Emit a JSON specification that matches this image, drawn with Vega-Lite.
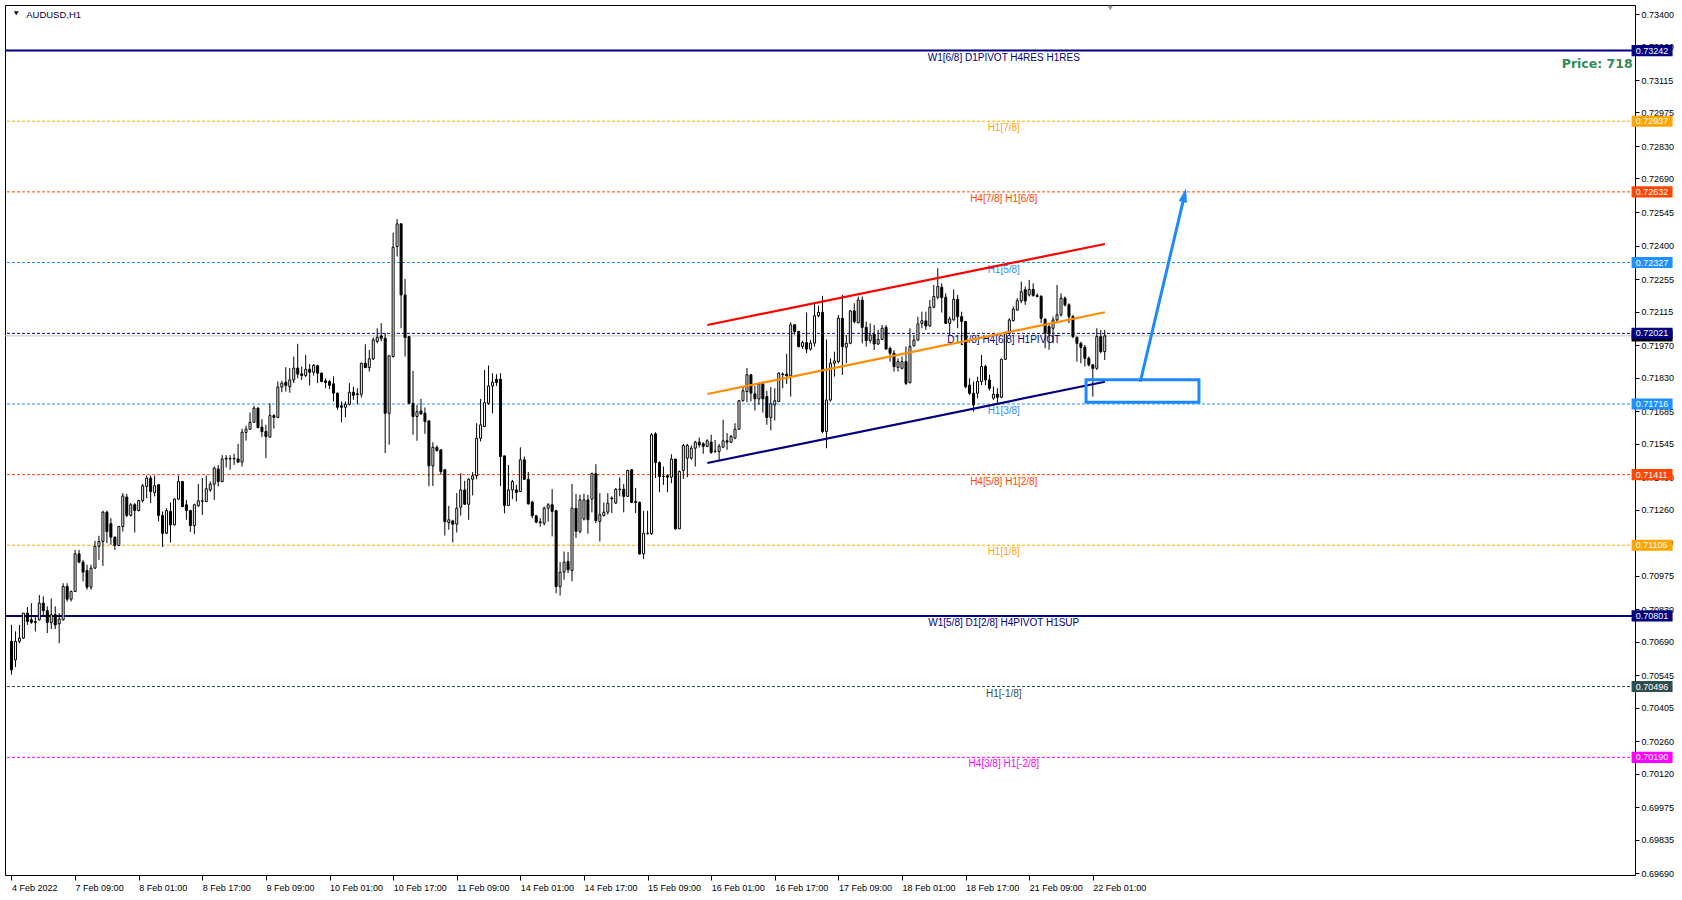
{
"$schema":"https://vega.github.io/schema/vega-lite/v6.json",
"width":1630,"height":870,
"autosize":{"type":"none"},
"padding":{"left":5,"top":5,"right":47,"bottom":25},
"background":"white",
"config":{"view":{"stroke":"black","strokeWidth":1},"font":"Liberation Sans",
 "axis":{"labelOverlap":false,"labelSeparation":0,"labelBound":false}},
"datasets":{
"candles":[
{"i":0,"o":0.70691,"h":0.70762,"l":0.70547,"c":0.70568},
{"i":1,"o":0.70611,"h":0.70734,"l":0.70580,"c":0.70691},
{"i":2,"o":0.70691,"h":0.70762,"l":0.70683,"c":0.70705},
{"i":3,"o":0.70705,"h":0.70813,"l":0.70701,"c":0.70813},
{"i":4,"o":0.70813,"h":0.70839,"l":0.70762,"c":0.70777},
{"i":5,"o":0.70784,"h":0.70856,"l":0.70767,"c":0.70773},
{"i":6,"o":0.70776,"h":0.70801,"l":0.70734,"c":0.70773},
{"i":7,"o":0.70784,"h":0.70891,"l":0.70781,"c":0.70856},
{"i":8,"o":0.70856,"h":0.70885,"l":0.70803,"c":0.70824},
{"i":9,"o":0.70824,"h":0.70842,"l":0.70727,"c":0.70773},
{"i":10,"o":0.70773,"h":0.70876,"l":0.70744,"c":0.70806},
{"i":11,"o":0.70806,"h":0.70842,"l":0.70744,"c":0.70762},
{"i":12,"o":0.70767,"h":0.70813,"l":0.70683,"c":0.70787},
{"i":13,"o":0.70784,"h":0.70942,"l":0.70781,"c":0.70928},
{"i":14,"o":0.70928,"h":0.70942,"l":0.70863,"c":0.70873},
{"i":15,"o":0.70873,"h":0.70911,"l":0.70863,"c":0.70906},
{"i":16,"o":0.70906,"h":0.71086,"l":0.70904,"c":0.71069},
{"i":17,"o":0.71069,"h":0.71086,"l":0.71029,"c":0.71033},
{"i":18,"o":0.71033,"h":0.71043,"l":0.70950,"c":0.70990},
{"i":19,"o":0.70997,"h":0.71022,"l":0.70914,"c":0.70925},
{"i":20,"o":0.70925,"h":0.71022,"l":0.70914,"c":0.71007},
{"i":21,"o":0.71007,"h":0.71125,"l":0.71004,"c":0.71101},
{"i":22,"o":0.71101,"h":0.71147,"l":0.71043,"c":0.71122},
{"i":23,"o":0.71122,"h":0.71255,"l":0.71017,"c":0.71249},
{"i":24,"o":0.71249,"h":0.71255,"l":0.71115,"c":0.71165},
{"i":25,"o":0.71199,"h":0.71223,"l":0.71108,"c":0.71141},
{"i":26,"o":0.71141,"h":0.71144,"l":0.71086,"c":0.71105},
{"i":27,"o":0.71105,"h":0.71190,"l":0.71104,"c":0.71187},
{"i":28,"o":0.71187,"h":0.71331,"l":0.71165,"c":0.71319},
{"i":29,"o":0.71314,"h":0.71328,"l":0.71227,"c":0.71235},
{"i":30,"o":0.71235,"h":0.71288,"l":0.71230,"c":0.71281},
{"i":31,"o":0.71281,"h":0.71288,"l":0.71161,"c":0.71256},
{"i":32,"o":0.71256,"h":0.71302,"l":0.71252,"c":0.71299},
{"i":33,"o":0.71299,"h":0.71371,"l":0.71291,"c":0.71363},
{"i":34,"o":0.71360,"h":0.71407,"l":0.71309,"c":0.71396},
{"i":35,"o":0.71396,"h":0.71407,"l":0.71288,"c":0.71338},
{"i":36,"o":0.71334,"h":0.71407,"l":0.71317,"c":0.71363},
{"i":37,"o":0.71367,"h":0.71370,"l":0.71209,"c":0.71235},
{"i":38,"o":0.71235,"h":0.71252,"l":0.71098,"c":0.71158},
{"i":39,"o":0.71158,"h":0.71266,"l":0.71155,"c":0.71256},
{"i":40,"o":0.71252,"h":0.71291,"l":0.71118,"c":0.71194},
{"i":41,"o":0.71194,"h":0.71309,"l":0.71191,"c":0.71305},
{"i":42,"o":0.71305,"h":0.71407,"l":0.71302,"c":0.71381},
{"i":43,"o":0.71381,"h":0.71384,"l":0.71270,"c":0.71273},
{"i":44,"o":0.71281,"h":0.71302,"l":0.71216,"c":0.71256},
{"i":45,"o":0.71256,"h":0.71259,"l":0.71164,"c":0.71191},
{"i":46,"o":0.71191,"h":0.71285,"l":0.71154,"c":0.71281},
{"i":47,"o":0.71276,"h":0.71371,"l":0.71273,"c":0.71298},
{"i":48,"o":0.71296,"h":0.71396,"l":0.71237,"c":0.71298},
{"i":49,"o":0.71295,"h":0.71407,"l":0.71292,"c":0.71350},
{"i":50,"o":0.71345,"h":0.71381,"l":0.71337,"c":0.71370},
{"i":51,"o":0.71370,"h":0.71446,"l":0.71302,"c":0.71439},
{"i":52,"o":0.71435,"h":0.71453,"l":0.71360,"c":0.71381},
{"i":53,"o":0.71381,"h":0.71495,"l":0.71378,"c":0.71478},
{"i":54,"o":0.71478,"h":0.71495,"l":0.71442,"c":0.71482},
{"i":55,"o":0.71479,"h":0.71495,"l":0.71432,"c":0.71480},
{"i":56,"o":0.71479,"h":0.71501,"l":0.71453,"c":0.71481},
{"i":57,"o":0.71479,"h":0.71544,"l":0.71463,"c":0.71465},
{"i":58,"o":0.71465,"h":0.71609,"l":0.71446,"c":0.71594},
{"i":59,"o":0.71593,"h":0.71622,"l":0.71558,"c":0.71607},
{"i":60,"o":0.71607,"h":0.71679,"l":0.71604,"c":0.71637},
{"i":61,"o":0.71637,"h":0.71708,"l":0.71636,"c":0.71698},
{"i":62,"o":0.71698,"h":0.71702,"l":0.71611,"c":0.71614},
{"i":63,"o":0.71616,"h":0.71650,"l":0.71573,"c":0.71597},
{"i":64,"o":0.71597,"h":0.71626,"l":0.71482,"c":0.71576},
{"i":65,"o":0.71573,"h":0.71719,"l":0.71571,"c":0.71666},
{"i":66,"o":0.71666,"h":0.71672,"l":0.71610,"c":0.71658},
{"i":67,"o":0.71658,"h":0.71813,"l":0.71655,"c":0.71789},
{"i":68,"o":0.71789,"h":0.71816,"l":0.71767,"c":0.71806},
{"i":69,"o":0.71810,"h":0.71875,"l":0.71770,"c":0.71796},
{"i":70,"o":0.71791,"h":0.71871,"l":0.71765,"c":0.71820},
{"i":71,"o":0.71820,"h":0.71921,"l":0.71806,"c":0.71871},
{"i":72,"o":0.71871,"h":0.71976,"l":0.71827,"c":0.71845},
{"i":73,"o":0.71846,"h":0.71878,"l":0.71820,"c":0.71839},
{"i":74,"o":0.71839,"h":0.71928,"l":0.71832,"c":0.71866},
{"i":75,"o":0.71866,"h":0.71888,"l":0.71796,"c":0.71853},
{"i":76,"o":0.71853,"h":0.71888,"l":0.71839,"c":0.71883},
{"i":77,"o":0.71881,"h":0.71885,"l":0.71806,"c":0.71849},
{"i":78,"o":0.71849,"h":0.71852,"l":0.71810,"c":0.71813},
{"i":79,"o":0.71816,"h":0.71827,"l":0.71784,"c":0.71809},
{"i":80,"o":0.71813,"h":0.71820,"l":0.71780,"c":0.71796},
{"i":81,"o":0.71803,"h":0.71835,"l":0.71727,"c":0.71763},
{"i":82,"o":0.71763,"h":0.71765,"l":0.71691,"c":0.71702},
{"i":83,"o":0.71708,"h":0.71727,"l":0.71637,"c":0.71702},
{"i":84,"o":0.71702,"h":0.71727,"l":0.71659,"c":0.71715},
{"i":85,"o":0.71715,"h":0.71806,"l":0.71709,"c":0.71767},
{"i":86,"o":0.71767,"h":0.71791,"l":0.71734,"c":0.71753},
{"i":87,"o":0.71760,"h":0.71784,"l":0.71715,"c":0.71757},
{"i":88,"o":0.71758,"h":0.71895,"l":0.71744,"c":0.71892},
{"i":89,"o":0.71892,"h":0.71974,"l":0.71871,"c":0.71873},
{"i":90,"o":0.71873,"h":0.71950,"l":0.71856,"c":0.71911},
{"i":91,"o":0.71911,"h":0.72003,"l":0.71906,"c":0.71993},
{"i":92,"o":0.71986,"h":0.72043,"l":0.71978,"c":0.72004},
{"i":93,"o":0.72010,"h":0.72065,"l":0.71986,"c":0.72000},
{"i":94,"o":0.72000,"h":0.72022,"l":0.71504,"c":0.71676},
{"i":95,"o":0.71676,"h":0.71928,"l":0.71540,"c":0.71924},
{"i":96,"o":0.71921,"h":0.72456,"l":0.71917,"c":0.72393},
{"i":97,"o":0.72396,"h":0.72515,"l":0.72353,"c":0.72494},
{"i":98,"o":0.72494,"h":0.72496,"l":0.72043,"c":0.72187},
{"i":99,"o":0.72187,"h":0.72256,"l":0.71921,"c":0.72003},
{"i":100,"o":0.72007,"h":0.72010,"l":0.71715,"c":0.71719},
{"i":101,"o":0.71719,"h":0.71859,"l":0.71583,"c":0.71662},
{"i":102,"o":0.71662,"h":0.71712,"l":0.71557,"c":0.71683},
{"i":103,"o":0.71686,"h":0.71738,"l":0.71669,"c":0.71673},
{"i":104,"o":0.71676,"h":0.71701,"l":0.71587,"c":0.71640},
{"i":105,"o":0.71643,"h":0.71645,"l":0.71360,"c":0.71449},
{"i":106,"o":0.71449,"h":0.71551,"l":0.71362,"c":0.71529},
{"i":107,"o":0.71529,"h":0.71537,"l":0.71511,"c":0.71515},
{"i":108,"o":0.71518,"h":0.71521,"l":0.71410,"c":0.71424},
{"i":109,"o":0.71432,"h":0.71435,"l":0.71148,"c":0.71208},
{"i":110,"o":0.71204,"h":0.71276,"l":0.71173,"c":0.71216},
{"i":111,"o":0.71211,"h":0.71216,"l":0.71118,"c":0.71197},
{"i":112,"o":0.71197,"h":0.71331,"l":0.71161,"c":0.71266},
{"i":113,"o":0.71270,"h":0.71417,"l":0.71234,"c":0.71345},
{"i":114,"o":0.71345,"h":0.71384,"l":0.71281,"c":0.71283},
{"i":115,"o":0.71283,"h":0.71396,"l":0.71216,"c":0.71391},
{"i":116,"o":0.71391,"h":0.71422,"l":0.71321,"c":0.71406},
{"i":117,"o":0.71406,"h":0.71633,"l":0.71391,"c":0.71568},
{"i":118,"o":0.71568,"h":0.71738,"l":0.71554,"c":0.71626},
{"i":119,"o":0.71619,"h":0.71863,"l":0.71616,"c":0.71722},
{"i":120,"o":0.71719,"h":0.71882,"l":0.71712,"c":0.71794},
{"i":121,"o":0.71794,"h":0.71849,"l":0.71676,"c":0.71810},
{"i":122,"o":0.71823,"h":0.71845,"l":0.71794,"c":0.71809},
{"i":123,"o":0.71823,"h":0.71849,"l":0.71362,"c":0.71489},
{"i":124,"o":0.71492,"h":0.71492,"l":0.71244,"c":0.71278},
{"i":125,"o":0.71278,"h":0.71453,"l":0.71276,"c":0.71345},
{"i":126,"o":0.71345,"h":0.71388,"l":0.71305,"c":0.71381},
{"i":127,"o":0.71345,"h":0.71367,"l":0.71295,"c":0.71334},
{"i":128,"o":0.71338,"h":0.71529,"l":0.71335,"c":0.71475},
{"i":129,"o":0.71475,"h":0.71489,"l":0.71388,"c":0.71391},
{"i":130,"o":0.71391,"h":0.71422,"l":0.71281,"c":0.71285},
{"i":131,"o":0.71292,"h":0.71298,"l":0.71223,"c":0.71234},
{"i":132,"o":0.71233,"h":0.71237,"l":0.71201,"c":0.71206},
{"i":133,"o":0.71207,"h":0.71223,"l":0.71187,"c":0.71204},
{"i":134,"o":0.71201,"h":0.71273,"l":0.71191,"c":0.71266},
{"i":135,"o":0.71266,"h":0.71288,"l":0.71208,"c":0.71281},
{"i":136,"o":0.71281,"h":0.71348,"l":0.71144,"c":0.71252},
{"i":137,"o":0.71255,"h":0.71259,"l":0.70899,"c":0.70928},
{"i":138,"o":0.70928,"h":0.71033,"l":0.70889,"c":0.70990},
{"i":139,"o":0.70990,"h":0.71079,"l":0.70957,"c":0.71033},
{"i":140,"o":0.71036,"h":0.71076,"l":0.70986,"c":0.71000},
{"i":141,"o":0.70997,"h":0.71371,"l":0.70950,"c":0.71266},
{"i":142,"o":0.71266,"h":0.71327,"l":0.71137,"c":0.71166},
{"i":143,"o":0.71166,"h":0.71324,"l":0.71158,"c":0.71302},
{"i":144,"o":0.71219,"h":0.71328,"l":0.71213,"c":0.71302},
{"i":145,"o":0.71302,"h":0.71324,"l":0.71156,"c":0.71216},
{"i":146,"o":0.71305,"h":0.71420,"l":0.71248,"c":0.71415},
{"i":147,"o":0.71415,"h":0.71456,"l":0.71202,"c":0.71212},
{"i":148,"o":0.71209,"h":0.71331,"l":0.71122,"c":0.71238},
{"i":149,"o":0.71235,"h":0.71291,"l":0.71230,"c":0.71249},
{"i":150,"o":0.71249,"h":0.71331,"l":0.71238,"c":0.71288},
{"i":151,"o":0.71307,"h":0.71317,"l":0.71245,"c":0.71310},
{"i":152,"o":0.71288,"h":0.71353,"l":0.71285,"c":0.71348},
{"i":153,"o":0.71347,"h":0.71399,"l":0.71317,"c":0.71348},
{"i":154,"o":0.71348,"h":0.71371,"l":0.71248,"c":0.71317},
{"i":155,"o":0.71317,"h":0.71432,"l":0.71314,"c":0.71429},
{"i":156,"o":0.71432,"h":0.71435,"l":0.71288,"c":0.71291},
{"i":157,"o":0.71295,"h":0.71353,"l":0.71245,"c":0.71291},
{"i":158,"o":0.71291,"h":0.71295,"l":0.71065,"c":0.71069},
{"i":159,"o":0.71069,"h":0.71255,"l":0.71046,"c":0.71158},
{"i":160,"o":0.71157,"h":0.71255,"l":0.71151,"c":0.71158},
{"i":161,"o":0.71156,"h":0.71590,"l":0.71151,"c":0.71583},
{"i":162,"o":0.71587,"h":0.71594,"l":0.71396,"c":0.71463},
{"i":163,"o":0.71463,"h":0.71468,"l":0.71335,"c":0.71403},
{"i":164,"o":0.71404,"h":0.71446,"l":0.71367,"c":0.71403},
{"i":165,"o":0.71406,"h":0.71413,"l":0.71335,"c":0.71400},
{"i":166,"o":0.71400,"h":0.71499,"l":0.71374,"c":0.71478},
{"i":167,"o":0.71478,"h":0.71479,"l":0.71173,"c":0.71177},
{"i":168,"o":0.71177,"h":0.71428,"l":0.71176,"c":0.71425},
{"i":169,"o":0.71429,"h":0.71543,"l":0.71392,"c":0.71537},
{"i":170,"o":0.71482,"h":0.71544,"l":0.71400,"c":0.71537},
{"i":171,"o":0.71482,"h":0.71537,"l":0.71475,"c":0.71525},
{"i":172,"o":0.71525,"h":0.71557,"l":0.71446,"c":0.71551},
{"i":173,"o":0.71551,"h":0.71571,"l":0.71528,"c":0.71540},
{"i":174,"o":0.71544,"h":0.71551,"l":0.71501,"c":0.71533},
{"i":175,"o":0.71533,"h":0.71564,"l":0.71530,"c":0.71557},
{"i":176,"o":0.71551,"h":0.71583,"l":0.71501,"c":0.71507},
{"i":177,"o":0.71511,"h":0.71561,"l":0.71504,"c":0.71512},
{"i":178,"o":0.71511,"h":0.71544,"l":0.71475,"c":0.71533},
{"i":179,"o":0.71530,"h":0.71648,"l":0.71525,"c":0.71557},
{"i":180,"o":0.71557,"h":0.71590,"l":0.71518,"c":0.71551},
{"i":181,"o":0.71551,"h":0.71583,"l":0.71547,"c":0.71576},
{"i":182,"o":0.71569,"h":0.71633,"l":0.71564,"c":0.71607},
{"i":183,"o":0.71607,"h":0.71734,"l":0.71604,"c":0.71730},
{"i":184,"o":0.71730,"h":0.71794,"l":0.71727,"c":0.71773},
{"i":185,"o":0.71770,"h":0.71871,"l":0.71724,"c":0.71842},
{"i":186,"o":0.71842,"h":0.71846,"l":0.71727,"c":0.71763},
{"i":187,"o":0.71760,"h":0.71794,"l":0.71688,"c":0.71738},
{"i":188,"o":0.71738,"h":0.71809,"l":0.71712,"c":0.71802},
{"i":189,"o":0.71803,"h":0.71813,"l":0.71679,"c":0.71738},
{"i":190,"o":0.71748,"h":0.71773,"l":0.71626,"c":0.71658},
{"i":191,"o":0.71658,"h":0.71789,"l":0.71602,"c":0.71717},
{"i":192,"o":0.71712,"h":0.71784,"l":0.71645,"c":0.71730},
{"i":193,"o":0.71727,"h":0.71853,"l":0.71724,"c":0.71849},
{"i":194,"o":0.71845,"h":0.71852,"l":0.71784,"c":0.71843},
{"i":195,"o":0.71845,"h":0.71933,"l":0.71803,"c":0.71838},
{"i":196,"o":0.71838,"h":0.72069,"l":0.71748,"c":0.72058},
{"i":197,"o":0.72058,"h":0.72061,"l":0.72015,"c":0.72029},
{"i":198,"o":0.72029,"h":0.72033,"l":0.71960,"c":0.71964},
{"i":199,"o":0.71964,"h":0.71989,"l":0.71954,"c":0.71981},
{"i":200,"o":0.71981,"h":0.72111,"l":0.71935,"c":0.71953},
{"i":201,"o":0.71953,"h":0.71993,"l":0.71947,"c":0.71979},
{"i":202,"o":0.71979,"h":0.72148,"l":0.71964,"c":0.72097},
{"i":203,"o":0.72097,"h":0.72140,"l":0.72091,"c":0.72112},
{"i":204,"o":0.72112,"h":0.72183,"l":0.71590,"c":0.71597},
{"i":205,"o":0.71597,"h":0.71995,"l":0.71525,"c":0.71733},
{"i":206,"o":0.71733,"h":0.71913,"l":0.71726,"c":0.71892},
{"i":207,"o":0.71892,"h":0.71942,"l":0.71834,"c":0.71902},
{"i":208,"o":0.71899,"h":0.72100,"l":0.71892,"c":0.72086},
{"i":209,"o":0.72086,"h":0.72187,"l":0.71841,"c":0.71964},
{"i":210,"o":0.71961,"h":0.72014,"l":0.71892,"c":0.71978},
{"i":211,"o":0.71978,"h":0.72122,"l":0.71974,"c":0.72118},
{"i":212,"o":0.72118,"h":0.72151,"l":0.72064,"c":0.72072},
{"i":213,"o":0.72067,"h":0.72180,"l":0.72064,"c":0.72165},
{"i":214,"o":0.72165,"h":0.72180,"l":0.71978,"c":0.72047},
{"i":215,"o":0.72047,"h":0.72072,"l":0.71964,"c":0.71990},
{"i":216,"o":0.71990,"h":0.72064,"l":0.71978,"c":0.72014},
{"i":217,"o":0.72017,"h":0.72057,"l":0.71949,"c":0.71975},
{"i":218,"o":0.71975,"h":0.72036,"l":0.71971,"c":0.71995},
{"i":219,"o":0.71995,"h":0.72057,"l":0.71992,"c":0.72043},
{"i":220,"o":0.72047,"h":0.72057,"l":0.71949,"c":0.71954},
{"i":221,"o":0.71956,"h":0.71964,"l":0.71899,"c":0.71935},
{"i":222,"o":0.71935,"h":0.71949,"l":0.71856,"c":0.71877},
{"i":223,"o":0.71874,"h":0.71913,"l":0.71856,"c":0.71899},
{"i":224,"o":0.71870,"h":0.71921,"l":0.71866,"c":0.71899},
{"i":225,"o":0.71899,"h":0.71964,"l":0.71798,"c":0.71805},
{"i":226,"o":0.71808,"h":0.72043,"l":0.71805,"c":0.71964},
{"i":227,"o":0.71967,"h":0.72014,"l":0.71964,"c":0.71992},
{"i":228,"o":0.71992,"h":0.72093,"l":0.71990,"c":0.72062},
{"i":229,"o":0.72064,"h":0.72115,"l":0.72043,"c":0.72075},
{"i":230,"o":0.72075,"h":0.72115,"l":0.72036,"c":0.72053},
{"i":231,"o":0.72053,"h":0.72165,"l":0.72050,"c":0.72134},
{"i":232,"o":0.72134,"h":0.72230,"l":0.72129,"c":0.72180},
{"i":233,"o":0.72177,"h":0.72302,"l":0.72168,"c":0.72223},
{"i":234,"o":0.72220,"h":0.72237,"l":0.72111,"c":0.72175},
{"i":235,"o":0.72177,"h":0.72194,"l":0.72062,"c":0.72064},
{"i":236,"o":0.72064,"h":0.72093,"l":0.72014,"c":0.72083},
{"i":237,"o":0.72079,"h":0.72211,"l":0.72076,"c":0.72168},
{"i":238,"o":0.72168,"h":0.72187,"l":0.72043,"c":0.72093},
{"i":239,"o":0.72093,"h":0.72115,"l":0.71971,"c":0.72072},
{"i":240,"o":0.72072,"h":0.72075,"l":0.71784,"c":0.71791},
{"i":241,"o":0.71798,"h":0.71827,"l":0.71755,"c":0.71762},
{"i":242,"o":0.71762,"h":0.71813,"l":0.71683,"c":0.71712},
{"i":243,"o":0.71762,"h":0.71834,"l":0.71741,"c":0.71813},
{"i":244,"o":0.71813,"h":0.71928,"l":0.71798,"c":0.71878},
{"i":245,"o":0.71878,"h":0.71885,"l":0.71798,"c":0.71820},
{"i":246,"o":0.71820,"h":0.71842,"l":0.71774,"c":0.71784},
{"i":247,"o":0.71741,"h":0.71791,"l":0.71734,"c":0.71758},
{"i":248,"o":0.71758,"h":0.71784,"l":0.71719,"c":0.71745},
{"i":249,"o":0.71745,"h":0.71912,"l":0.71741,"c":0.71909},
{"i":250,"o":0.71909,"h":0.72029,"l":0.71906,"c":0.72021},
{"i":251,"o":0.72021,"h":0.72086,"l":0.72014,"c":0.72079},
{"i":252,"o":0.72076,"h":0.72137,"l":0.72072,"c":0.72125},
{"i":253,"o":0.72122,"h":0.72173,"l":0.72119,"c":0.72162},
{"i":254,"o":0.72162,"h":0.72245,"l":0.72151,"c":0.72201},
{"i":255,"o":0.72209,"h":0.72223,"l":0.72144,"c":0.72161},
{"i":256,"o":0.72187,"h":0.72252,"l":0.72180,"c":0.72211},
{"i":257,"o":0.72211,"h":0.72237,"l":0.72180,"c":0.72184},
{"i":258,"o":0.72184,"h":0.72194,"l":0.72177,"c":0.72180},
{"i":259,"o":0.72180,"h":0.72187,"l":0.72065,"c":0.72086},
{"i":260,"o":0.72082,"h":0.72086,"l":0.71957,"c":0.72021},
{"i":261,"o":0.72050,"h":0.72057,"l":0.71950,"c":0.72018},
{"i":262,"o":0.72043,"h":0.72093,"l":0.71978,"c":0.72079},
{"i":263,"o":0.72079,"h":0.72230,"l":0.72065,"c":0.72101},
{"i":264,"o":0.72101,"h":0.72194,"l":0.72093,"c":0.72173},
{"i":265,"o":0.72173,"h":0.72180,"l":0.72137,"c":0.72144},
{"i":266,"o":0.72144,"h":0.72151,"l":0.72065,"c":0.72093},
{"i":267,"o":0.72093,"h":0.72101,"l":0.72000,"c":0.72007},
{"i":268,"o":0.72004,"h":0.72007,"l":0.71899,"c":0.71978},
{"i":269,"o":0.71978,"h":0.71985,"l":0.71892,"c":0.71961},
{"i":270,"o":0.71961,"h":0.71971,"l":0.71878,"c":0.71913},
{"i":271,"o":0.71913,"h":0.71921,"l":0.71878,"c":0.71885},
{"i":272,"o":0.71885,"h":0.71888,"l":0.71748,"c":0.71870},
{"i":273,"o":0.71870,"h":0.72043,"l":0.71863,"c":0.72007},
{"i":274,"o":0.72007,"h":0.72036,"l":0.71935,"c":0.71942},
{"i":275,"o":0.71942,"h":0.72036,"l":0.71906,"c":0.72010}
],
"levels":[
{"p":0.73242,"label":"W1[6/8] D1PIVOT H4RES H1RES","solid":true},
{"p":0.72937,"label":"H1[7/8]","solid":false},
{"p":0.72632,"label":"H4[7/8] H1[6/8]","solid":false},
{"p":0.72327,"label":"H1[5/8]","solid":false},
{"p":0.72021,"label":"D1[3/8] H4[6/8] H1PIVOT","solid":false},
{"p":0.71716,"label":"H1[3/8]","solid":false},
{"p":0.71411,"label":"H4[5/8] H1[2/8]","solid":false},
{"p":0.71106,"label":"H1[1/8]","solid":false},
{"p":0.70801,"label":"W1[5/8] D1[2/8] H4PIVOT H1SUP","solid":true},
{"p":0.70496,"label":"H1[-1/8]","solid":false},
{"p":0.70190,"label":"H4[3/8] H1[-2/8]","solid":false}
],
"bid":[{"p":0.72010}],
"trend":[
{"name":"upper","i":175.05,"p":0.72057},{"name":"upper","i":275.05,"p":0.72407},
{"name":"middle","i":175.05,"p":0.71759},{"name":"middle","i":275.05,"p":0.72112},
{"name":"lower","i":175.05,"p":0.71461},{"name":"lower","i":275.05,"p":0.71812}
],
"arrow":[{"i":283.95,"p":0.71812},{"i":295.1,"p":0.72620}],
"box":[{"i1":270.3,"i2":298.7,"p1":0.71821,"p2":0.71723}]
},
"layer":[
{"data":{"name":"levels"},"transform":[{"filter":"!datum.solid"}],
 "mark":{"type":"rule","strokeWidth":1,"strokeDash":[3,2]},
 "encoding":{"y":{"field":"p","type":"quantitative","title":null,
   "scale":{"domain":[0.69682,0.73439],"nice":false,"zero":false},
   "axis":{"orient":"right","title":null,"grid":false,"domain":false,"format":".5f","tickCount":100,
     "values":[0.734,0.7326,0.73115,0.72975,0.7283,0.7269,0.72545,0.724,0.72255,0.72115,0.7197,0.7183,0.71685,0.71545,0.714,0.7126,0.7112,0.70975,0.7083,0.7069,0.70545,0.70405,0.7026,0.7012,0.69975,0.69835,0.6969],
     "tickSize":4,"tickColor":"black","labelColor":"black","labelFont":"Liberation Sans","labelFontSize":9,"labelPadding":2,"labelAlign":"left","labelBaseline":"middle","labelOverlap":false,"labelSeparation":0,"labelBound":false,"labelFlush":false}},
  "stroke":{"field":"label","type":"nominal","legend":null,
   "scale":{"domain":["W1[6/8] D1PIVOT H4RES H1RES","H1[7/8]","H4[7/8] H1[6/8]","H1[5/8]","D1[3/8] H4[6/8] H1PIVOT","H1[3/8]","H4[5/8] H1[2/8]","H1[1/8]","W1[5/8] D1[2/8] H4PIVOT H1SUP","H1[-1/8]","H4[3/8] H1[-2/8]"],
     "range":["#000080","#FFA500","#FF4500","#1E90FF","#000080","#1E90FF","#FF4500","#FFA500","#000080","#2F4F4F","#FF00FF"]}}}},
{"data":{"name":"levels"},"transform":[{"filter":"datum.solid"}],
 "mark":{"type":"rule","strokeWidth":2},
 "encoding":{"y":{"field":"p","type":"quantitative","title":null},
  "stroke":{"field":"label","type":"nominal","legend":null}}},
{"data":{"name":"bid"},"mark":{"type":"rule","stroke":"#C0C0C0","strokeWidth":1},
 "encoding":{"y":{"field":"p","type":"quantitative","title":null}}},
{"data":{"name":"levels"},
 "mark":{"type":"text","font":"Liberation Sans","fontSize":10,"align":"center","baseline":"middle","dy":7},
 "encoding":{"x":{"datum":249.6},"y":{"field":"p","type":"quantitative","title":null},"text":{"field":"label"},
  "fill":{"field":"label","type":"nominal","legend":null,
   "scale":{"domain":["W1[6/8] D1PIVOT H4RES H1RES","H1[7/8]","H4[7/8] H1[6/8]","H1[5/8]","D1[3/8] H4[6/8] H1PIVOT","H1[3/8]","H4[5/8] H1[2/8]","H1[1/8]","W1[5/8] D1[2/8] H4PIVOT H1SUP","H1[-1/8]","H4[3/8] H1[-2/8]"],
     "range":["#000080","#FFA500","#FF4500","#1E90FF","#000080","#1E90FF","#FF4500","#FFA500","#000080","#2F4F4F","#FF00FF"]}}}},
{"data":{"name":"candles"},"mark":{"type":"rule","stroke":"black","strokeWidth":1},
 "encoding":{"x":{"field":"i","type":"quantitative","title":null,
   "scale":{"domain":[-0.375,407.125],"nice":false,"zero":false},
   "axis":{"orient":"bottom","title":null,"grid":false,"domain":false,"tickCount":100,
     "values":[0,16,32,48,64,80,96,112,128,144,160,176,192,208,224,240,256,272],
     "labelExpr":"['4 Feb 2022','7 Feb 09:00','8 Feb 01:00','8 Feb 17:00','9 Feb 09:00','10 Feb 01:00','10 Feb 17:00','11 Feb 09:00','14 Feb 01:00','14 Feb 17:00','15 Feb 09:00','16 Feb 01:00','16 Feb 17:00','17 Feb 09:00','18 Feb 01:00','18 Feb 17:00','21 Feb 09:00','22 Feb 01:00'][round(datum.value/16)]",
     "tickSize":5,"tickColor":"black","labelColor":"black","labelFont":"Liberation Sans","labelFontSize":9,"labelPadding":3,"labelAlign":"left","labelBaseline":"top","labelOverlap":false,"labelFlush":false}},
  "y":{"field":"l","type":"quantitative","title":null},"y2":{"field":"h"}}},
{"data":{"name":"candles"},"mark":{"type":"bar","size":2,"stroke":"black","strokeWidth":1},
 "encoding":{"x":{"field":"i","type":"quantitative","title":null},
  "y":{"field":"o","type":"quantitative","title":null},"y2":{"field":"c"},
  "fill":{"condition":{"test":"datum.c > datum.o","value":"#FFFFFF"},"value":"#000000"}}},
{"data":{"name":"trend"},"mark":{"type":"line","strokeWidth":2.2},
 "encoding":{"x":{"field":"i","type":"quantitative","title":null},"y":{"field":"p","type":"quantitative","title":null},
  "color":{"field":"name","type":"nominal","legend":null,"scale":{"domain":["upper","middle","lower"],"range":["#FF0000","#FF8C00","#000080"]}}}},
{"data":{"name":"box"},"mark":{"type":"rect","fill":null,"fillOpacity":0,"stroke":"#1E88FF","strokeWidth":3},
 "encoding":{"x":{"field":"i1","type":"quantitative","title":null},"x2":{"field":"i2"},
  "y":{"field":"p1","type":"quantitative","title":null},"y2":{"field":"p2"}}},
{"data":{"name":"arrow"},"mark":{"type":"line","stroke":"#1E88FF","strokeWidth":3},
 "encoding":{"x":{"field":"i","type":"quantitative","title":null},"y":{"field":"p","type":"quantitative","title":null}}},
{"data":{"values":[{}]},"mark":{"type":"point","shape":"M0,-1L0.6,1L-0.6,1Z","filled":true,"fill":"#1E88FF","strokeWidth":0,"size":196,"angle":13.4,"opacity":1},
 "encoding":{"x":{"datum":295.05},"y":{"datum":0.72618}}},
{"data":{"name":"bid"},"mark":{"type":"point","shape":"M-1,-0.27L1,-0.27L1,0.27L-1,0.27Z","filled":true,"fill":"#000000","strokeWidth":0,"size":1681,"opacity":1},
 "encoding":{"x":{"datum":412.68},"y":{"field":"p","type":"quantitative","title":null}}},
{"data":{"name":"levels"},"mark":{"type":"point","shape":"M-1,-0.27L1,-0.27L1,0.27L-1,0.27Z","filled":true,"strokeWidth":0,"size":1681,"opacity":1},
 "encoding":{"x":{"datum":412.68},"y":{"field":"p","type":"quantitative","title":null},
  "fill":{"field":"label","type":"nominal","legend":null}}},
{"data":{"name":"levels"},"mark":{"type":"text","font":"Liberation Sans","fontSize":9,"align":"left","baseline":"middle","fill":"white"},
 "encoding":{"x":{"datum":408.55},"y":{"field":"p","type":"quantitative","title":null},"text":{"field":"p","type":"quantitative","format":".5f"}}},
{"data":{"values":[{}]},"mark":{"type":"text","font":"Liberation Sans","fontSize":9.5,"align":"left","baseline":"middle","fill":"#000040"},
 "encoding":{"x":{"datum":3.7},"y":{"datum":0.73397},"text":{"value":"AUDUSD,H1"}}},
{"data":{"values":[{}]},"mark":{"type":"point","shape":"triangle-down","filled":true,"fill":"black","strokeWidth":0,"size":22,"opacity":1},
 "encoding":{"x":{"datum":1.2},"y":{"datum":0.73403}}},
{"data":{"values":[{}]},"mark":{"type":"point","shape":"triangle-down","filled":true,"fill":"#A0A0A0","strokeWidth":0,"size":30,"opacity":1},
 "encoding":{"x":{"datum":276.4},"y":{"datum":0.73425}}},
{"data":{"values":[{}]},"mark":{"type":"text","font":"DejaVu Sans","fontSize":12.5,"fontWeight":"bold","align":"right","baseline":"middle","fill":"#2E8B57"},
 "encoding":{"x":{"datum":407.8},"y":{"datum":0.73184},"text":{"value":"Price: 718"}}}
]
}
